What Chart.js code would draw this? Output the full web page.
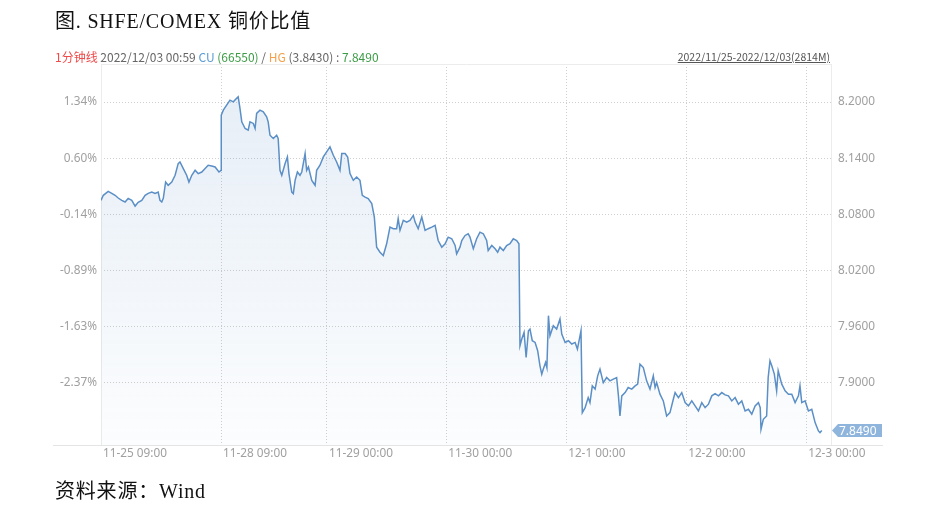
<!DOCTYPE html>
<html>
<head>
<meta charset="utf-8">
<script src="https://cdn.jsdelivr.net/npm/chart.js@4.4.0/dist/chart.umd.min.js"></script>
<style>
  html, body { margin: 0; padding: 0; background: #fff; }
  body { width: 940px; height: 522px; position: relative; overflow: hidden; }
  #wrap { position: absolute; left: 0; top: 0; width: 940px; height: 522px; }
  .title { position: absolute; left: 55px; top: 5px; font: 20px "Liberation Serif", "Noto Sans CJK SC", serif; letter-spacing: 0.8px; color: #111; white-space: nowrap; }
  .source { position: absolute; left: 55px; top: 475px; font: 20px "Liberation Serif", "Noto Sans CJK SC", serif; letter-spacing: 0.8px; color: #111; white-space: nowrap; }
  .info { position: absolute; left: 55px; top: 48px; font: 12px "Noto Sans CJK SC", "Noto Sans", sans-serif; color: #666; white-space: nowrap; }
  .range { position: absolute; right: 110px; top: 49px; font: 10.5px "Noto Sans CJK SC", "Noto Sans", sans-serif; color: #555; text-decoration: underline; white-space: nowrap; }
</style>
</head>
<body>
<div id="wrap"><canvas id="c" width="940" height="522"></canvas></div>
<div class="title">图. SHFE/COMEX 铜价比值</div>
<div class="info"><span style="color:#f04a4a">1分钟线</span> 2022/12/03 00:59 <span style="color:#5b9bd5">CU</span> <span style="color:#3c9c46">(66550)</span> / <span style="color:#f5a04a">HG</span> (3.8430) : <span style="color:#3c9c46">7.8490</span></div>
<div class="range">2022/11/25-2022/12/03(2814M)</div>
<div class="source">资料来源：Wind</div>
<script>
// 1-minute bar index since 11-25 09:00, and SHFE/COMEX ratio
const barIdx = [0,9,28,42,55,67,81,94,106,120,133,145,159,172,184,198,211,223,230,237,243,252,262,276,289,301,308,321,334,343,354,367,379,393,406,418,432,445,460,468,
  469,477,490,503,516,529,535,542,549,562,574,581,594,601,607,620,633,646,652,659,672,685,691,698,705,718,727,733,744,750,757,766,776,783,796,802,809,822,835,841,854,867,880,
  893,906,919,932,939,952,962,971,984,997,1010,1019,1030,1042,1056,1066,1075,1088,1101,1114,1127,1140,1153,1159,1166,1179,1192,1205,1218,1225,1237,1251,1264,1276,1290,1303,1315,1329,1342,1354,1368,1381,1387,1400,1407,1420,1432,1439,1452,1465,1478,1491,1504,1510,1524,1537,1547,1556,1569,1582,1595,1608,1621,1630,
  1634,1641,1650,1658,1667,1673,1682,1693,1703,1712,1719,1725,1734,1739,1745,1751,1764,1777,1790,1797,1810,1823,1836,1849,1858,1872,
  1877,1888,1900,1907,1916,1927,1937,1946,1959,1972,1985,1998,2011,2018,2024,2031,2044,2056,2070,2083,2093,2102,2115,2128,2141,2154,2161,2167,2180,2193,2206,2219,2232,2239,2252,2265,2278,2291,2304,2317,2330,2343,2356,2369,2382,2395,2408,2421,2434,2447,2460,2473,2486,2499,2512,2525,2538,2551,2564,2571,2574,2583,2596,2602,2609,2616,2626,2635,2641,2655,2668,2681,2694,2707,2720,2726,2733,2746,2759,2772,2785,2798,2804,2811];
const ratio = [8.0950,8.1004,8.1046,8.1025,8.1004,8.0975,8.0950,8.0932,8.0971,8.0950,8.0889,8.0929,8.0950,8.1004,8.1025,8.1039,8.1025,8.1039,8.0950,8.0932,8.0971,8.1146,8.1111,8.1146,8.1218,8.1343,8.1360,8.1290,8.1218,8.1146,8.1218,8.1271,8.1236,8.1253,8.1290,8.1325,8.1318,8.1307,8.1253,8.1271,
  8.1861,8.1914,8.1968,8.2021,8.2003,8.2040,8.2057,8.1932,8.1789,8.1718,8.1700,8.1789,8.1772,8.1718,8.1879,8.1914,8.1896,8.1843,8.1789,8.1646,8.1611,8.1646,8.1611,8.1271,8.1218,8.1343,8.1414,8.1236,8.1039,8.1022,8.1164,8.1253,8.1218,8.1253,8.1450,8.1271,8.1307,8.1164,8.1111,8.1271,8.1325,8.1414,8.1468,
  8.1521,8.1432,8.1360,8.1271,8.1450,8.1450,8.1414,8.1236,8.1164,8.1200,8.1164,8.1004,8.0985,8.0968,8.0915,8.0771,8.0450,8.0396,8.0361,8.0486,8.0664,8.0647,8.0647,8.0754,8.0629,8.0736,8.0718,8.0736,8.0789,8.0718,8.0647,8.0771,8.0629,8.0647,8.0664,8.0682,8.0521,8.0450,8.0486,8.0557,8.0540,8.0468,8.0379,8.0450,8.0521,8.0575,8.0593,8.0557,8.0433,8.0540,8.0610,8.0593,8.0521,8.0414,8.0468,8.0433,8.0396,8.0450,8.0414,8.0468,8.0486,8.0540,8.0521,8.0486,
  7.9396,7.9468,7.9539,7.9271,7.9557,7.9575,7.9450,7.9432,7.9343,7.9182,7.9093,7.9147,7.9218,7.9164,7.9718,7.9504,7.9611,7.9575,7.9683,7.9522,7.9432,7.9450,7.9415,7.9432,7.9361,7.9557,
  7.8682,7.8735,7.8843,7.8789,7.8968,7.8933,7.9075,7.9147,7.9003,7.9057,7.9021,7.9040,7.9057,7.8861,7.8646,7.8861,7.8896,7.8950,7.8933,7.8968,7.8986,7.9200,7.9164,7.9021,7.8933,7.9075,7.8950,7.9003,7.8879,7.8807,7.8646,7.8682,7.8825,7.8896,7.8843,7.8896,7.8789,7.8754,7.8807,7.8754,7.8700,7.8789,7.8735,7.8772,7.8861,7.8885,7.8861,7.8896,7.8871,7.8861,7.8807,7.8843,7.8772,7.8807,7.8700,7.8718,7.8665,7.8754,7.8789,7.8735,7.8504,7.8611,7.8646,7.9057,7.9236,7.9182,7.9093,7.8914,7.9129,7.8986,7.8914,7.8879,7.8879,7.8789,7.8861,7.8968,7.8789,7.8807,7.8700,7.8718,7.8575,7.8486,7.8468,7.8490];

const xTickPos = [0, 468, 881, 1346, 1814, 2282, 2750];
const xTickLabels = ['11-25 09:00', '11-28 09:00', '11-29 00:00', '11-30 00:00', '12-1 00:00', '12-2 00:00', '12-3 00:00'];
const rightTicks = [7.90, 7.96, 8.02, 8.08, 8.14, 8.20];
const leftTickLabels = ['-2.37%', '-1.63%', '-0.89%', '-0.14%', '0.60%', '1.34%'];
const lastLabel = '7.8490';

const Y_MIN = 7.8336, Y_MAX = 8.2407, X_MAX = 2847;
const tickFont = { family: '"Noto Sans", "Open Sans", sans-serif', size: 11.8 };

const frame = {
    id: 'frame',
    beforeDatasetsDraw(chart) {
        const { ctx, chartArea: a } = chart;
        ctx.save();
        ctx.strokeStyle = '#ececec';
        ctx.lineWidth = 1;
        ctx.beginPath();
        ctx.moveTo(a.left + 0.5, a.top + 0.5); ctx.lineTo(a.right + 0.5, a.top + 0.5);
        ctx.moveTo(a.left + 0.5, a.top); ctx.lineTo(a.left + 0.5, a.bottom);
        ctx.moveTo(a.right + 0.5, a.top); ctx.lineTo(a.right + 0.5, a.bottom);
        ctx.stroke();
        ctx.strokeStyle = '#e4e4e4';
        ctx.beginPath();
        ctx.moveTo(a.left - 48, a.bottom + 0.5); ctx.lineTo(a.right + 52, a.bottom + 0.5);
        ctx.stroke();
        ctx.restore();
    },
    afterDatasetsDraw(chart) {
        const { ctx, chartArea: a } = chart;
        const y = chart.scales.y.getPixelForValue(ratio[ratio.length - 1]);
        const x0 = a.right + 1, x1 = a.right + 7, x2 = a.right + 51, h = 6.5;
        ctx.save();
        ctx.fillStyle = '#8fb5dc';
        ctx.beginPath();
        ctx.moveTo(x0, y); ctx.lineTo(x1, y - h); ctx.lineTo(x2, y - h);
        ctx.lineTo(x2, y + h); ctx.lineTo(x1, y + h); ctx.closePath();
        ctx.fill();
        ctx.fillStyle = '#fff';
        ctx.font = '12px "Noto Sans", sans-serif';
        ctx.textBaseline = 'middle';
        ctx.fillText(lastLabel, x1 + 1, y + 0.5);
        ctx.restore();
    }
};

new Chart(document.getElementById('c'), {
    type: 'line',
    data: {
        datasets: [{
            data: barIdx.map((b, i) => ({ x: b, y: ratio[i] })),
            borderColor: '#5b8fc6',
            borderWidth: 1.5,
            pointRadius: 0,
            tension: 0,
            fill: 'start',
            backgroundColor: ctx => {
                const a = ctx.chart.chartArea;
                if (!a) return 'rgba(91,143,198,0.08)';
                const g = ctx.chart.ctx.createLinearGradient(0, a.top, 0, a.bottom);
                g.addColorStop(0, 'rgba(91,143,198,0.16)');
                g.addColorStop(1, 'rgba(91,143,198,0.02)');
                return g;
            },
            yAxisID: 'y'
        }]
    },
    options: {
        responsive: false,
        animation: false,
        layout: { padding: { top: 64, left: 0, right: 0, bottom: 0 } },
        plugins: { legend: { display: false }, tooltip: { enabled: false } },
        scales: {
            x: {
                type: 'linear', min: 0, max: X_MAX,
                afterFit: s => { s.height = 77; },
                afterBuildTicks: s => { s.ticks = xTickPos.map(v => ({ value: v })); },
                ticks: {
                    autoSkip: false, maxRotation: 0, align: 'start', labelOffset: 2, padding: 2,
                    color: '#a0a0a0', font: tickFont,
                    callback: (v, i) => xTickLabels[i]
                },
                grid: { color: '#cfcfcf', drawTicks: false },
                border: { display: false, dash: [1, 2] }
            },
            y: {
                position: 'right', min: Y_MIN, max: Y_MAX,
                afterFit: s => { s.width = 109; },
                afterBuildTicks: s => { s.ticks = rightTicks.map(v => ({ value: v })); },
                ticks: { padding: 7, color: '#a0a0a0', font: tickFont, callback: v => v.toFixed(4) },
                grid: { color: '#cfcfcf', drawTicks: false },
                border: { display: false, dash: [1, 2] }
            },
            y2: {
                position: 'left', min: Y_MIN, max: Y_MAX,
                afterFit: s => { s.width = 101; },
                afterBuildTicks: s => { s.ticks = rightTicks.map(v => ({ value: v })); },
                ticks: { padding: 4, color: '#a0a0a0', font: tickFont, callback: (v, i) => leftTickLabels[i] },
                grid: { display: false, drawTicks: false },
                border: { display: false }
            }
        }
    },
    plugins: [frame]
});
</script>
</body>
</html>
